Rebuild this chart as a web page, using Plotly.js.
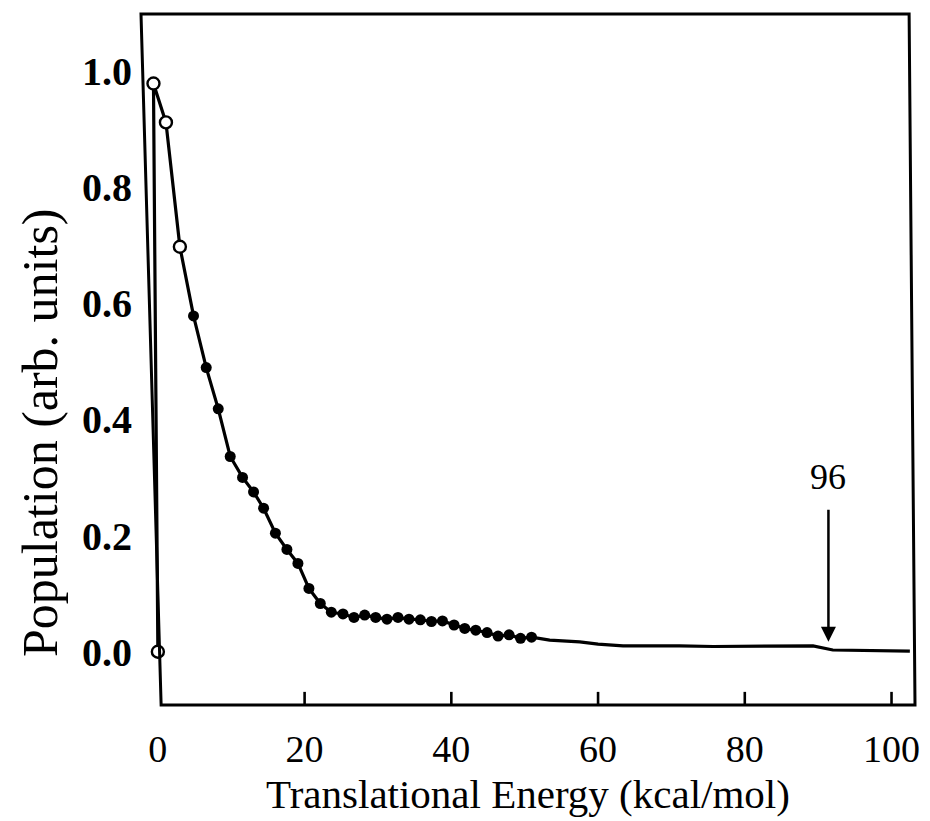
<!DOCTYPE html>
<html>
<head>
<meta charset="utf-8">
<script src="https://cdn.plot.ly/plotly-3.0.1.min.js"></script>
<style>html,body{margin:0;padding:0;background:#fff;}</style>
</head>
<body>
<div id="chart" style="width:930px;height:821px;"></div>
<script>
// Open-circle points (low-energy region)
const openE = [0, -0.6, 1.1, 3.0];
const openP = [0, 0.978, 0.911, 0.697];
// Filled-circle points
const filledE = [4.86, 6.59, 8.23, 9.86, 11.54, 13.04, 14.41, 16.02, 17.59, 19.09, 20.59, 22.14, 23.64, 25.23, 26.73, 28.19, 29.69, 31.23, 32.73, 34.23, 35.78, 37.29, 38.79, 40.37, 41.83, 43.33, 44.87, 46.37, 47.87, 49.43, 50.93];
const filledP = [0.578, 0.489, 0.418, 0.336, 0.300, 0.275, 0.247, 0.204, 0.176, 0.152, 0.109, 0.083, 0.068, 0.065, 0.059, 0.063, 0.059, 0.056, 0.059, 0.056, 0.055, 0.052, 0.053, 0.046, 0.040, 0.037, 0.033, 0.027, 0.029, 0.023, 0.025];
// Smooth tail (line only)
const tailE = [53.4, 57.5, 60.0, 63.4, 71.1, 75.7, 89.3, 92.0, 102.5];
const tailP = [0.020, 0.017, 0.013, 0.010, 0.010, 0.009, 0.010, 0.003, 0.001];
// Axis ticks
const xTicks = [0, 20, 40, 60, 80, 100];
const yTicks = [0.0, 0.2, 0.4, 0.6, 0.8, 1.0];
const yTickText = ["0.0", "0.2", "0.4", "0.6", "0.8", "1.0"];
const markE = 91.4, markLabel = "96";

const lineE = openE.concat(filledE, tailE);
const lineP = openP.concat(filledP, tailP);

const serif = "Liberation Serif, Times New Roman, serif";

const traces = [
  {x: lineE, y: lineP, mode: "lines", line: {color: "#000", width: 3.2}, hoverinfo: "skip"},
  {x: filledE, y: filledP, mode: "markers", marker: {color: "#000", size: 11, symbol: "circle"}},
  {x: openE, y: openP, mode: "markers", marker: {color: "#fff", size: 12, symbol: "circle", line: {color: "#000", width: 2.4}}}
];

const xMin = -2.3, xMax = 103.2, yMin = -0.0917, yMax = 1.0976;

// inward tick marks on the bottom edge (skip 0, which sits at the frame corner)
const tickShapes = xTicks.filter(t => t > 0).map(t => ({
  type: "line", xref: "x", yref: "paper", x0: t, x1: t, y0: 0, y1: 0.019,
  line: {color: "#000", width: 2.6}
}));

const layout = {
  width: 930, height: 821,
  margin: {l: 141, r: 15, t: 14, b: 116},
  paper_bgcolor: "#fff", plot_bgcolor: "#fff",
  showlegend: false,
  xaxis: {
    range: [xMin, xMax], showgrid: false, zeroline: false, showline: false,
    tickvals: xTicks, ticks: "",
    ticklabelstandoff: 18,
    tickfont: {family: serif, size: 38, color: "#000"},
    title: {text: "Translational Energy (kcal/mol)", font: {family: serif, size: 41, color: "#000"}, standoff: 10}
  },
  yaxis: {
    range: [yMin, yMax], showgrid: false, zeroline: false, showline: false,
    tickvals: yTicks, ticktext: yTickText, ticks: "",
    ticklabelstandoff: 8,
    tickfont: {family: serif, size: 40, color: "#000", weight: "bold"}
  },
  shapes: [
    {type: "path", xref: "paper", yref: "paper",
     path: "M 0 1 L 0.9924 1 L 1 0 L 0.026 0 Z",
     line: {color: "#000", width: 3}}
  ].concat(tickShapes),
  annotations: [
    {xref: "paper", yref: "paper", x: -0.1305, y: 0.395, xanchor: "center", yanchor: "middle",
     text: "Population (arb. units)", textangle: -90, showarrow: false,
     font: {family: serif, size: 50, color: "#000"}},
    {x: markE, y: 0.017, xref: "x", yref: "y", ax: markE, ay: 0.247, axref: "x", ayref: "y",
     showarrow: true, arrowhead: 2, arrowsize: 1.2, arrowwidth: 2.5, arrowcolor: "#000", text: ""},
    {x: markE, y: 0.30, xref: "x", yref: "y", text: markLabel, showarrow: false,
     font: {family: serif, size: 36, color: "#000"}}
  ]
};

Plotly.newPlot("chart", traces, layout, {displayModeBar: false, staticPlot: true});
</script>
</body>
</html>
